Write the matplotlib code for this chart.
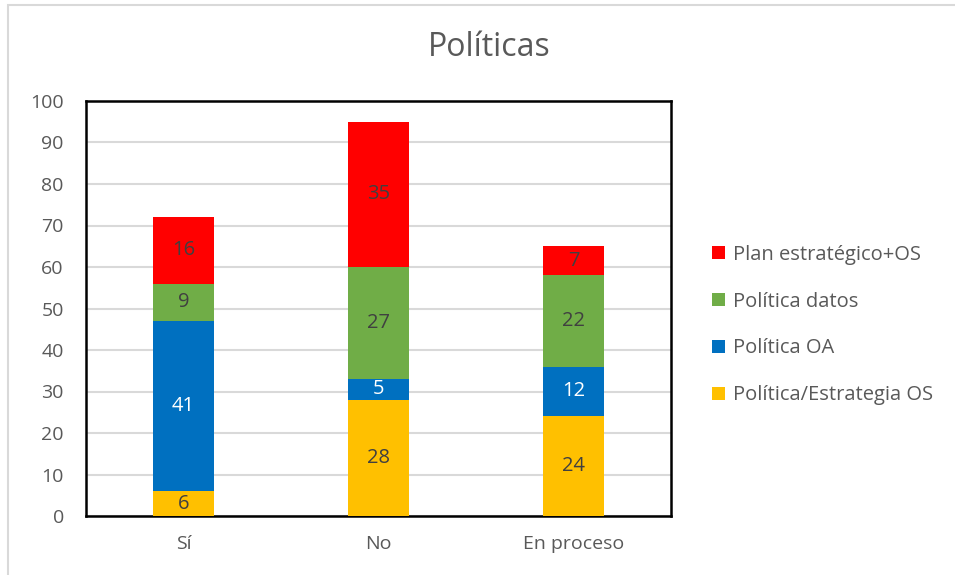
import numpy as np
import matplotlib.pyplot as plt
from matplotlib.patches import Rectangle

categories = ["Sí", "No", "En proceso"]
series_names = ["Política/Estrategia OS", "Política OA", "Política datos", "Plan estratégico+OS"]
politica_os = [6, 28, 24]
politica_oa = [41, 5, 12]
politica_datos = [9, 27, 22]
plan_estrategico = [16, 35, 7]
colors = ["#FFC000", "#0070C0", "#70AD47", "#FF0000"]
label_colors = ["#404040", "white", "#404040", "#404040"]

plt.rcParams['font.family'] = ['Open Sans', 'DejaVu Sans']

fig = plt.figure(figsize=(9.55, 5.75), dpi=100)
ax = fig.add_axes([86/955, 1 - 516/575, 585/955, 415/575])

# chart area border
fig.patches.append(Rectangle((8/955, -0.01), 1.0, 1.0 - 5/575 + 0.01, transform=fig.transFigure,
                             fill=False, edgecolor="#D9D9D9", linewidth=1.5))

x = np.arange(len(categories))
bottom = np.zeros(len(categories))
handles = []
for name, vals, col, lc in zip(series_names, [politica_os, politica_oa, politica_datos, plan_estrategico],
                               colors, label_colors):
    bars = ax.bar(x, vals, 0.313, bottom=bottom, color=col, label=name, zorder=3)
    ax.bar_label(bars, labels=[str(v) for v in vals], label_type='center', color=lc, fontsize=14.5)
    handles.append(bars)
    bottom += np.array(vals)

ax.set_xlim(-0.5, 2.5)
ax.set_ylim(0, 100)
ax.set_yticks(range(0, 101, 10))
ax.set_xticks(x)
ax.set_xticklabels(categories)
ax.tick_params(length=0, labelsize=14, labelcolor="#595959")
ax.tick_params(axis='x', pad=14)
ax.tick_params(axis='y', pad=16)
ax.grid(axis='y', color="#D9D9D9", linewidth=1.5, zorder=0)
for s in ax.spines.values():
    s.set_color("black")
    s.set_linewidth(1.8)

fig.text(0.512, 0.918, "Políticas", ha='center', va='center', fontsize=23, color="#595959")

leg = ax.legend(handles[::-1], series_names[::-1], loc='center left', bbox_to_anchor=(1.07, 0.46),
                frameon=False, fontsize=14.5, labelspacing=1.33, handlelength=0.63, handleheight=0.63,
                handletextpad=0.4, borderpad=0, borderaxespad=0)
for t in leg.get_texts():
    t.set_color("#595959")

fig.savefig("out.png", dpi=100)
